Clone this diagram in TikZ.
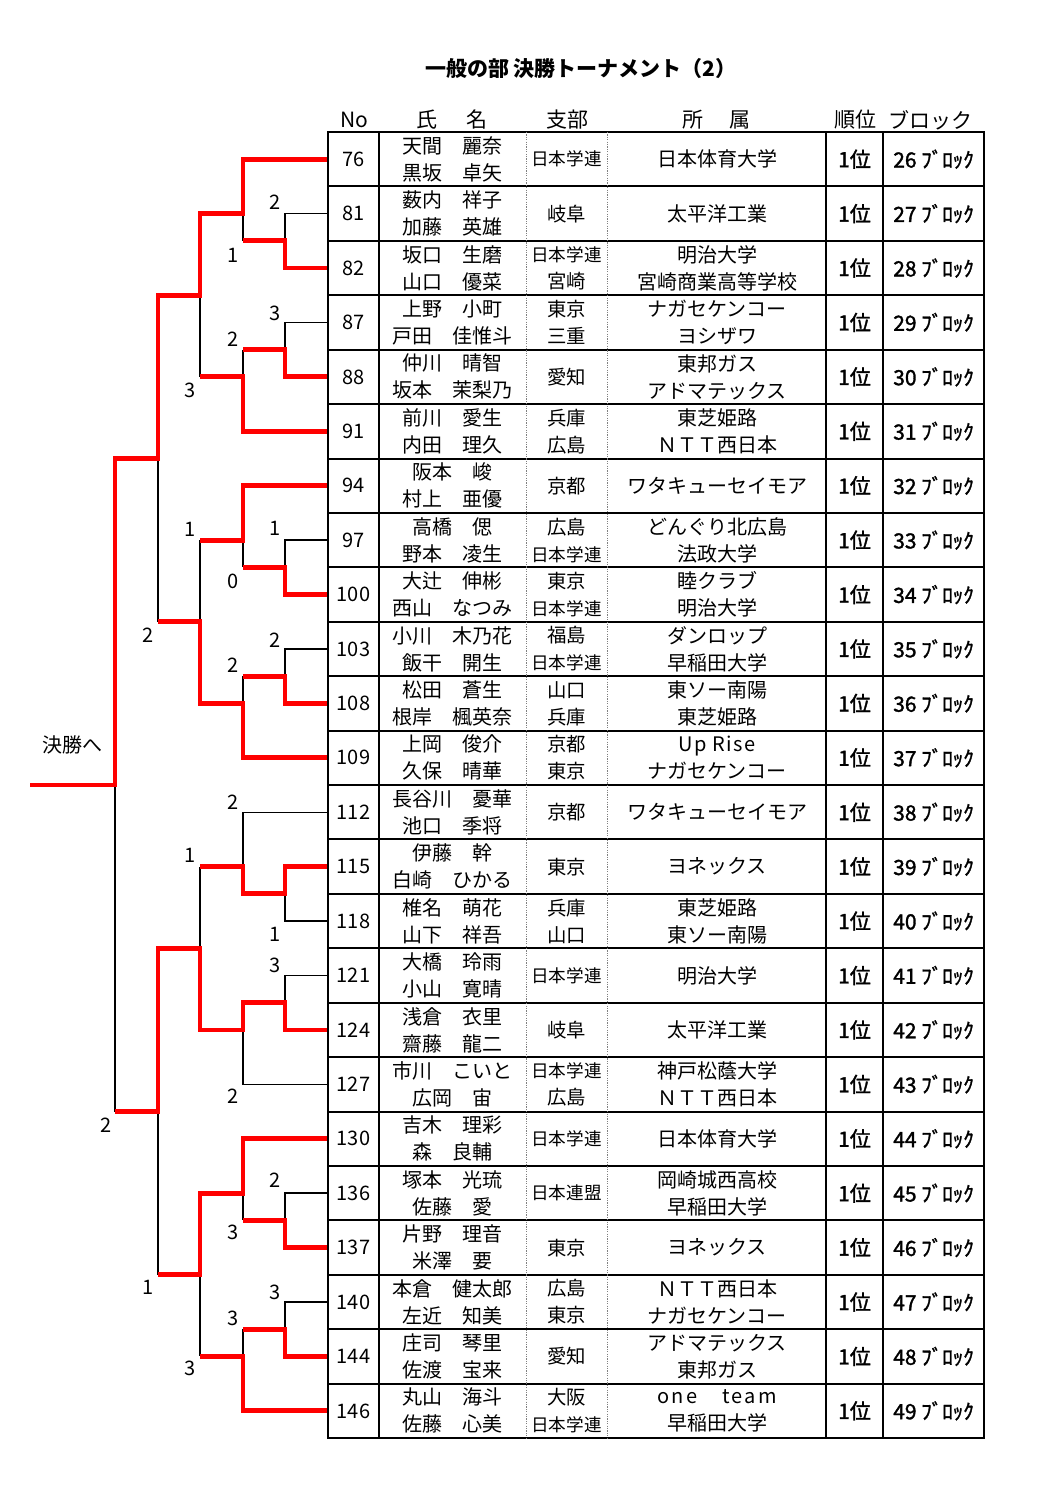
\documentclass[tikz,border=0pt]{standalone}
\usepackage{fontspec}
\setmainfont{Noto Sans CJK JP}
\newcommand\gak{\fontsize{8.8}{13.5}\selectfont}

\begin{document}
\begin{tikzpicture}[x=0.5pt,y=-13.605pt,
   cell/.style={inner sep=0pt,align=center,font=\fontsize{10}{13.5}\selectfont},
   nocell/.style={cell,minimum width=25.5pt,minimum height=27.2pt},
   rank/.style={inner sep=0pt,font=\fontsize{10.5}{13}\selectfont\addfontfeature{FakeBold=1.5}},
   head/.style={inner sep=0pt,font=\fontsize{10.5}{12}\selectfont},
   score/.style={inner sep=0pt,font=\fontsize{10}{12}\selectfont},
   win/.style={draw=red,line width=2.4pt},
   lose/.style={draw=black,line width=0.75pt},
   rule/.style={line width=1pt},
   dotrule/.style={line width=0.5pt,gray,dash pattern=on 0.6pt off 0.6pt}]
  \useasboundingbox (0,-4.851) rectangle (1059,50.386);
  \node[font=\bfseries\fontsize{10.5}{12}\selectfont] (title) at (581,-2.35) {一般の部 決勝トーナメント（2）};
  % header
  \node[head] (hno) at (354,-0.44) {No};
  \node[head] (hname) at (452,-0.44) {氏\hspace{14.5pt}名};
  \node[head] (hbr) at (567,-0.44) {支部};
  \node[head] (haf) at (716.5,-0.44) {所\hspace{13.5pt}属};
  \node[head] (hrank) at (855,-0.44) {順位};
  \node[head] (hblk) at (930,-0.44) {ブロック};
  % rows
  \foreach \i/\no/\nm/\br/\af in {
    0/76/{天間　麗奈\\黒坂　卓矢}/{\gak 日本学連}/{日本体育大学},
    1/81/{薮内　祥子\\加藤　英雄}/{岐阜}/{太平洋工業},
    2/82/{坂口　生磨\\山口　優菜}/{{\gak 日本学連}\\宮崎}/{明治大学\\宮崎商業高等学校},
    3/87/{上野　小町\\戸田　佳惟斗}/{東京\\三重}/{ナガセケンコー\\ヨシザワ},
    4/88/{仲川　晴智\\坂本　茉梨乃}/{愛知}/{東邦ガス\\アドマテックス},
    5/91/{前川　愛生\\内田　理久}/{兵庫\\広島}/{東芝姫路\\ＮＴＴ西日本},
    6/94/{阪本　峻\\村上　亜優}/{京都}/{ワタキューセイモア},
    7/97/{高橋　偲\\野本　凌生}/{広島\\{\gak 日本学連}}/{どんぐり北広島\\法政大学},
    8/100/{大辻　伸彬\\西山　なつみ}/{東京\\{\gak 日本学連}}/{睦クラブ\\明治大学},
    9/103/{小川　木乃花\\飯干　開生}/{福島\\{\gak 日本学連}}/{ダンロップ\\早稲田大学},
    10/108/{松田　蒼生\\根岸　楓英奈}/{山口\\兵庫}/{東ソー南陽\\東芝姫路},
    11/109/{上岡　俊介\\久保　晴華}/{京都\\東京}/{{\addfontfeature{LetterSpace=8}Up Rise}\\ナガセケンコー},
    12/112/{長谷川　憂華\\池口　季将}/{京都}/{ワタキューセイモア},
    13/115/{伊藤　幹\\白崎　ひかる}/{東京}/{ヨネックス},
    14/118/{椎名　萌花\\山下　祥吾}/{兵庫\\山口}/{東芝姫路\\東ソー南陽},
    15/121/{大橋　玲雨\\小山　寛晴}/{\gak 日本学連}/{明治大学},
    16/124/{浅倉　衣里\\齋藤　龍二}/{岐阜}/{太平洋工業},
    17/127/{市川　こいと\\広岡　宙}/{{\gak 日本学連}\\広島}/{神戸松蔭大学\\ＮＴＴ西日本},
    18/130/{吉木　理彩\\森　良輔}/{\gak 日本学連}/{日本体育大学},
    19/136/{塚本　光琉\\佐藤　愛}/{\gak 日本連盟}/{岡崎城西高校\\早稲田大学},
    20/137/{片野　理音\\米澤　要}/{東京}/{ヨネックス},
    21/140/{本倉　健太郎\\左近　知美}/{広島\\東京}/{ＮＴＴ西日本\\ナガセケンコー},
    22/144/{庄司　琴里\\佐渡　宝来}/{愛知}/{アドマテックス\\東邦ガス},
    23/146/{丸山　海斗\\佐藤　心美}/{大阪\\{\gak 日本学連}}/{{\addfontfeature{LetterSpace=12}one　team}\\早稲田大学}}{
    \pgfmathtruncatemacro\blk{26+\i}
    \node[nocell] (no\no) at (353.5,{2*\i+1}) {\no};
    \node[cell] (nm\no) at (452,{2*\i+1}) {\nm};
    \node[cell,font=\fontsize{9.7}{13.5}\selectfont] (br\no) at (566.5,{2*\i+1}) {\br};
    \node[cell] (af\no) at (717,{2*\i+1}) {\af};
    \node[rank] (rk\no) at (854.5,{2*\i+1}) {1位};
    \node[rank] (bl\no) at (933.5,{2*\i+1}) {\blk\ ﾌﾞﾛｯｸ};
  }
  % bracket, beaten side
  \draw[lose] (no81.west) -| (285,4);
  \draw[lose] (243,3) -- (243,4);
  \draw[lose] (no87.west) -| (285,8);
  \draw[lose] (243,8) -- (243,9);
  \draw[lose] (200,6) -- (200,9);
  \draw[lose] (no97.west) -| (285,16);
  \draw[lose] (243,15) -- (243,16);
  \draw[lose] (no103.west) -| (285,20);
  \draw[lose] (243,20) -- (243,21);
  \draw[lose] (200,15) -- (200,18);
  \draw[lose] (158,12) -- (158,18);
  \draw[lose] (115,24) -- (115,36);
  \draw[lose] (no112.west) -| (243,27);
  \draw[lose] (no118.west) -| (285,28);
  \draw[lose] (200,27) -- (200,30);
  \draw[lose] (no121.west) -| (285,32);
  \draw[lose] (no127.west) -| (243,33);
  \draw[lose] (158,36) -- (158,42);
  \draw[lose] (no136.west) -| (285,40);
  \draw[lose] (243,39) -- (243,40);
  \draw[lose] (no140.west) -| (285,44);
  \draw[lose] (243,44) -- (243,45);
  \draw[lose] (200,42) -- (200,45);
  % bracket, winners
  \coordinate (toend) at (30,24);
  \node[cell] (final) at (72,22.53) {決勝へ};
  \draw[win] (no76.west) -| (243,3) -| (200,6) -| (158,12) -| (115,24) -- (toend);
  \draw[win] (no82.west) -| (285,4) -- (243,4);
  \draw[win] (no88.west) -| (285,8) -- (243,8);
  \draw[win] (no91.west) -| (243,9) -- (200,9);
  \draw[win] (no94.west) -| (243,15) -- (200,15);
  \draw[win] (no100.west) -| (285,16) -- (243,16);
  \draw[win] (no108.west) -| (285,20) -- (243,20);
  \draw[win] (no109.west) -| (243,21) -| (200,18) -- (158,18);
  \draw[win] (no115.west) -| (285,28) -| (243,27) -- (200,27);
  \draw[win] (no124.west) -| (285,32) -| (243,33) -| (200,30) -| (158,36) -- (115,36);
  \draw[win] (no130.west) -| (243,39) -| (200,42) -- (158,42);
  \draw[win] (no137.west) -| (285,40) -- (243,40);
  \draw[win] (no144.west) -| (285,44) -- (243,44);
  \draw[win] (no146.west) -| (243,45) -- (200,45);
  % scores
  \foreach \x/\y/\s [count=\n] in {275/2.57/2,233/4.52/1,275/6.65/3,233/7.61/2,190/9.48/3,
      190/14.59/1,275/14.55/1,233/16.5/0,148/18.49/2,275/18.67/2,233/19.59/2,
      233/24.62/2,190/26.57/1,275/29.47/1,275/30.61/3,233/35.43/2,106/36.49/2,
      275/38.51/2,233/40.43/3,148/42.45/1,275/42.63/3,233/43.59/3,190/45.42/3}
    \node[score] (s\n) at (\x,\y) {\s};
  % table rules
  \draw[rule] (328,0) rectangle (984,48);
  \foreach \k in {2,4,...,46} \draw[rule] (328,\k) -- (984,\k);
  \foreach \x in {379,826,883} \draw[rule] (\x,0) -- (\x,48);
  \foreach \x in {526,607} \draw[dotrule] (\x,0) -- (\x,48);
\end{tikzpicture}
\end{document}
